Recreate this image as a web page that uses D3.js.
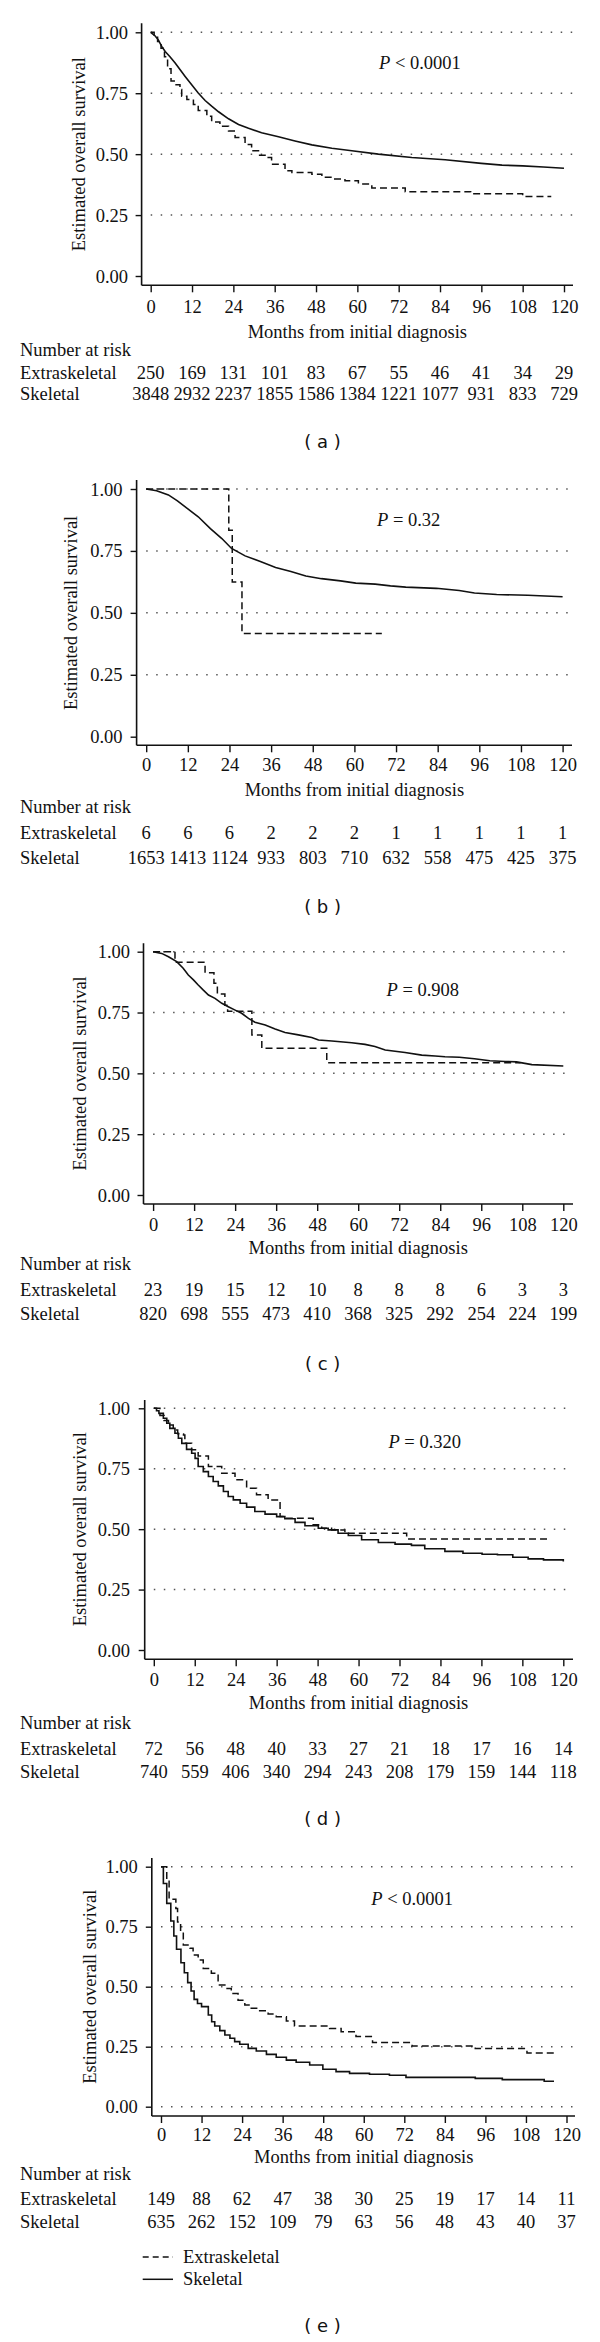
<!DOCTYPE html>
<html><head><meta charset="utf-8">
<script src="https://cdn.jsdelivr.net/npm/d3@7/dist/d3.min.js"></script>
<style>body{margin:0;background:#fff;} svg{display:block;}</style>
</head><body>
<svg id="chart" width="600" height="2342"></svg>
<script>
// ---------------- DATA ----------------
const panelNames = ["a", "b", "c", "d", "e"];
const monthTicks = [0, 12, 24, 36, 48, 60, 72, 84, 96, 108, 120];
const survTicks = [0, 0.25, 0.5, 0.75, 1];
const survTickLabels = ["0.00", "0.25", "0.50", "0.75", "1.00"];
const seriesNames = ["Extraskeletal", "Skeletal"];
const pOps = ["<", "=", "=", "=", "<"];
const pNums = ["0.0001", "0.32", "0.908", "0.320", "0.0001"];

const riskExtra_a = [250, 169, 131, 101, 83, 67, 55, 46, 41, 34, 29];
const riskSkel_a = [3848, 2932, 2237, 1855, 1586, 1384, 1221, 1077, 931, 833, 729];
const riskExtra_b = [6, 6, 6, 2, 2, 2, 1, 1, 1, 1, 1];
const riskSkel_b = [1653, 1413, 1124, 933, 803, 710, 632, 558, 475, 425, 375];
const riskExtra_c = [23, 19, 15, 12, 10, 8, 8, 8, 6, 3, 3];
const riskSkel_c = [820, 698, 555, 473, 410, 368, 325, 292, 254, 224, 199];
const riskExtra_d = [72, 56, 48, 40, 33, 27, 21, 18, 17, 16, 14];
const riskSkel_d = [740, 559, 406, 340, 294, 243, 208, 179, 159, 144, 118];
const riskExtra_e = [149, 88, 62, 47, 38, 30, 25, 19, 17, 14, 11];
const riskSkel_e = [635, 262, 152, 109, 79, 63, 56, 48, 43, 40, 37];

// [month, survival] points
const survSkel_a = [[0,1],[1.3,0.985],[2.2,0.969],[3.2,0.942],[4.2,0.921],[5.6,0.90],[7.1,0.874],[8.5,0.847],[10,0.819],[11.9,0.785],[13.8,0.751],[15.8,0.72],[17.7,0.697],[19.7,0.674],[22.6,0.645],[25.5,0.622],[28.4,0.606],[32.2,0.588],[37.1,0.571],[41.9,0.554],[46.8,0.538],[52.6,0.524],[58.4,0.514],[66.1,0.50],[75.8,0.486],[85.5,0.477],[96,0.462],[102,0.455],[108,0.452],[114,0.447],[120,0.442]];
const survExtra_a = [[0,1],[1,0.985],[2,0.962],[3,0.935],[4,0.90],[4.9,0.85],[5.9,0.80],[7.1,0.785],[8.5,0.765],[9,0.738],[10.5,0.724],[12.4,0.704],[13.8,0.679],[16.3,0.656],[17.7,0.632],[20.1,0.615],[22.6,0.595],[24.5,0.568],[27.4,0.54],[29.3,0.514],[31.3,0.496],[33.2,0.486],[35.1,0.459],[39,0.432],[41,0.425],[46.8,0.418],[49.7,0.405],[52.6,0.398],[56.4,0.391],[60.3,0.378],[64.2,0.361],[73.9,0.346],[92.9,0.337],[108,0.326],[116.3,0.326]];

const survSkel_b = [[0,1],[3,0.993],[6.4,0.976],[9,0.952],[12,0.92],[15,0.888],[18.5,0.84],[21.8,0.80],[24.6,0.76],[28.5,0.73],[32.9,0.707],[37.3,0.683],[41.7,0.667],[46,0.649],[50.5,0.638],[56,0.629],[60.4,0.62],[66,0.616],[70.4,0.609],[74.8,0.604],[83.6,0.599],[90.2,0.59],[94.6,0.58],[101,0.574],[110,0.571],[120,0.565]];
const survExtra_b = [[0,1],[23.8,0.833],[24.8,0.625],[27.6,0.417],[67.9,0.417]];

const survSkel_c = [[0,1],[2.5,0.993],[4.5,0.979],[6.9,0.959],[8.8,0.932],[10.3,0.904],[11.8,0.884],[13.2,0.863],[14.7,0.842],[16.2,0.822],[18.1,0.808],[20.1,0.788],[22,0.774],[24,0.76],[25.9,0.747],[27.9,0.726],[29.8,0.71],[32.8,0.699],[35.7,0.682],[38.6,0.668],[42.5,0.658],[46.4,0.647],[48.4,0.637],[52.3,0.633],[58.1,0.626],[62,0.619],[64.9,0.61],[67.9,0.596],[73.7,0.586],[78.6,0.575],[82.5,0.571],[85.4,0.568],[89.6,0.566],[94,0.56],[98.5,0.552],[103,0.549],[106.3,0.547],[110.8,0.536],[120,0.53]];
const survExtra_c = [[0,1],[6.4,0.957],[15.2,0.913],[17.8,0.87],[18.8,0.826],[21,0.78],[21.8,0.755],[28.9,0.658],[31.8,0.603],[50.8,0.544],[107.5,0.544]];

const survSkel_d = [[0,1],[0.8,0.99],[1.5,0.979],[2.8,0.959],[3.8,0.938],[4.7,0.917],[6.2,0.897],[7.2,0.876],[8.2,0.855],[9.6,0.83],[11.1,0.814],[12.1,0.793],[13,0.759],[14.5,0.738],[16,0.718],[17.4,0.697],[18.9,0.679],[20.4,0.656],[21.8,0.635],[23.3,0.621],[25.3,0.607],[27.2,0.591],[29.6,0.573],[32.6,0.562],[36,0.552],[38.4,0.543],[41.4,0.528],[44.3,0.514],[48.2,0.504],[51.1,0.497],[54,0.483],[57,0.474],[60.9,0.456],[65.8,0.445],[70.7,0.438],[75.5,0.433],[79.4,0.419],[85.3,0.408],[90.6,0.40],[96.2,0.396],[100.7,0.394],[105.2,0.384],[109.7,0.377],[114.2,0.373],[120,0.366]];
const survExtra_d = [[0,1],[1.8,0.97],[3,0.95],[4.3,0.931],[5.7,0.91],[7,0.895],[8.7,0.89],[9.1,0.855],[11.1,0.828],[13,0.803],[16,0.759],[19.9,0.731],[23.8,0.704],[27.2,0.669],[30.1,0.642],[33.5,0.621],[37,0.552],[38.5,0.545],[46.7,0.518],[49.2,0.504],[52.1,0.497],[56,0.483],[74.1,0.459],[115.3,0.459]];

const survSkel_e = [[0,1],[0.7,0.93],[1.7,0.847],[2.9,0.774],[3.8,0.711],[4.6,0.656],[5.9,0.60],[6.9,0.558],[7.9,0.517],[8.9,0.482],[9.8,0.447],[10.8,0.43],[12,0.417],[14,0.382],[15,0.354],[15.9,0.336],[17.4,0.317],[18.9,0.299],[20.4,0.285],[21.8,0.271],[23.3,0.26],[25.8,0.243],[28.2,0.232],[31.2,0.218],[34.1,0.206],[37.1,0.194],[40,0.185],[44,0.174],[47.9,0.156],[51.8,0.146],[55.8,0.139],[61.7,0.135],[67.6,0.131],[72.5,0.122],[93,0.118],[101,0.113],[113.4,0.106],[116.3,0.106]];
const survExtra_e = [[0,1],[1.7,0.944],[2.4,0.864],[4.4,0.826],[4.9,0.77],[5.8,0.73],[6.6,0.674],[8.6,0.66],[9.5,0.632],[11,0.611],[12.5,0.576],[14.9,0.556],[16.9,0.507],[18.9,0.493],[20.8,0.472],[22.8,0.444],[24.8,0.424],[26.7,0.41],[29.2,0.40],[31.7,0.386],[34.1,0.375],[37.1,0.357],[39.5,0.336],[49.9,0.326],[53.3,0.3125],[57.7,0.292],[62.6,0.267],[74.3,0.253],[93,0.242],[108.3,0.224],[116.3,0.224]];

const riskExtra = [riskExtra_a, riskExtra_b, riskExtra_c, riskExtra_d, riskExtra_e];
const riskSkel = [riskSkel_a, riskSkel_b, riskSkel_c, riskSkel_d, riskSkel_e];
const survExtra = [survExtra_a, survExtra_b, survExtra_c, survExtra_d, survExtra_e];
const survSkel = [survSkel_a, survSkel_b, survSkel_c, survSkel_d, survSkel_e];

// ---------------- LAYOUT (pixels) ----------------
const layout = [
  {axisX:141.6, x0:150.7, x1:564,   right:573, yTop:32.3,   yBot:276,    axisTop:23.3,  xAxisY:285.3,  tickLabY:307,    titleY:332,    yTitleX:78.5, yTickRight:128,   narY:350,    extraY:372.7,  skelY:394,    labelY:441.7,  pX:379,   pY:63.3,   zeroGrid:false, skelStep:false},
  {axisX:136.6, x0:146.2, x1:562.6, right:572, yTop:489,    yBot:736.7,  axisTop:480,   xAxisY:745.3,  tickLabY:765,    titleY:790,    yTitleX:70.8, yTickRight:122.5, narY:806.7,  extraY:833.3,  skelY:857.7,  labelY:906.7,  pX:377,   pY:520,    zeroGrid:false, skelStep:false},
  {axisX:143.5, x0:153.1, x1:563.3, right:573, yTop:951.7,  yBot:1195,   axisTop:943.3, xAxisY:1204,   tickLabY:1225,   titleY:1248.3, yTitleX:80.4, yTickRight:130,   narY:1264,   extraY:1290,   skelY:1314,   labelY:1363.3, pX:386.5, pY:990,    zeroGrid:false, skelStep:false},
  {axisX:144.7, x0:153.8, x1:563.3, right:573, yTop:1408.3, yBot:1650,   axisTop:1400,  xAxisY:1659.3, tickLabY:1680,   titleY:1703.3, yTitleX:80.4, yTickRight:130,   narY:1722.7, extraY:1749.3, skelY:1771.7, labelY:1818.3, pX:388.4, pY:1442.3, zeroGrid:false, skelStep:true},
  {axisX:151.8, x0:161,   x1:566.5, right:575, yTop:1866.7, yBot:2106.7, axisTop:1858,  xAxisY:2116,   tickLabY:2135.3, titleY:2157,   yTitleX:90,   yTickRight:137.8, narY:2173.7, extraY:2198.7, skelY:2222,   labelY:2325.3, pX:371.2, pY:1898.7, zeroGrid:true,  skelStep:true}
];
const legendLayout = {x0:142.7, x1:173, textX:183, y:[2257, 2279.3]};

const serif = "'Liberation Serif', 'Times New Roman', serif";
const fs = 18.5;
const ink = "#111";
const dashStyle = "7 4";

const svg = d3.select("#chart");

panelNames.forEach((name, i) => {
  const L = layout[i];
  const g = svg.append("g");
  const x = d3.scaleLinear().domain([0, 120]).range([L.x0, L.x1]);
  const y = d3.scaleLinear().domain([0, 1]).range([L.yBot, L.yTop]);

  // dotted grid
  const gridVals = survTicks.filter(v => L.zeroGrid || v > 0);
  g.selectAll("line.grid").data(gridVals).join("line")
    .attr("x1", L.x0).attr("x2", L.right)
    .attr("y1", d => y(d)).attr("y2", d => y(d))
    .attr("stroke", "#555").attr("stroke-width", 1.5)
    .attr("stroke-dasharray", "1.5 8.5");

  // y axis
  const yAxis = d3.axisLeft(y).tickValues(survTicks)
    .tickFormat((d, k) => survTickLabels[k]).tickSize(6).tickPadding(L.axisX - L.yTickRight - 6);
  const ya = g.append("g").attr("transform", `translate(${L.axisX},0)`).call(yAxis);
  ya.select(".domain").remove();
  ya.append("line").attr("x1", 0).attr("x2", 0).attr("y1", L.axisTop).attr("y2", L.xAxisY)
    .attr("stroke", ink).attr("stroke-width", 1.6);
  ya.selectAll(".tick line").attr("stroke", ink).attr("stroke-width", 1.4);
  ya.selectAll(".tick text").attr("font-family", serif).attr("font-size", fs).attr("fill", ink)
    .attr("dy", null).attr("dominant-baseline", "central");

  // x axis
  const xAxis = d3.axisBottom(x).tickValues(monthTicks).tickFormat(d3.format("d")).tickSize(7).tickPadding(0);
  const xa = g.append("g").attr("transform", `translate(0,${L.xAxisY})`).call(xAxis);
  xa.select(".domain").remove();
  xa.append("line").attr("x1", L.axisX).attr("x2", L.right).attr("y1", 0).attr("y2", 0)
    .attr("stroke", ink).attr("stroke-width", 1.6);
  xa.selectAll(".tick line").attr("stroke", ink).attr("stroke-width", 1.4);
  xa.selectAll(".tick text").attr("font-family", serif).attr("font-size", fs).attr("fill", ink)
    .attr("y", L.tickLabY - L.xAxisY).attr("dy", null).attr("dominant-baseline", "central");

  // axis titles
  g.append("text").attr("x", (L.x0 + L.x1) / 2).attr("y", L.titleY)
    .attr("text-anchor", "middle").attr("dominant-baseline", "central")
    .attr("font-family", serif).attr("font-size", fs).attr("fill", ink)
    .text("Months from initial diagnosis");
  g.append("text")
    .attr("transform", `translate(${L.yTitleX},${(L.yTop + L.yBot) / 2}) rotate(-90)`)
    .attr("text-anchor", "middle").attr("dominant-baseline", "central")
    .attr("font-family", serif).attr("font-size", fs).attr("fill", ink)
    .text("Estimated overall survival");

  // curves
  const stepLine = d3.line().x(d => x(d[0])).y(d => y(d[1])).curve(d3.curveStepAfter);
  const fineLine = d3.line().x(d => x(d[0])).y(d => y(d[1])).curve(d3.curveLinear);
  g.append("path").datum(survSkel[i]).attr("d", L.skelStep ? stepLine : fineLine)
    .attr("fill", "none").attr("stroke", ink).attr("stroke-width", 1.6);
  g.append("path").datum(survExtra[i]).attr("d", stepLine)
    .attr("fill", "none").attr("stroke", ink).attr("stroke-width", 1.5)
    .attr("stroke-dasharray", dashStyle);

  // p value
  const pt = g.append("text").attr("x", L.pX).attr("y", L.pY).attr("dominant-baseline", "central")
    .attr("font-family", serif).attr("font-size", fs).attr("fill", ink);
  pt.append("tspan").attr("font-style", "italic").text("P");
  pt.append("tspan").text(" " + pOps[i] + " " + pNums[i]);

  // number at risk table
  const txt = (xx, yy, s, anchor) => g.append("text").attr("x", xx).attr("y", yy)
    .attr("text-anchor", anchor).attr("dominant-baseline", "central")
    .attr("font-family", serif).attr("font-size", fs).attr("fill", ink).text(s);
  txt(20, L.narY, "Number at risk", "start");
  txt(20, L.extraY, seriesNames[0], "start");
  txt(20, L.skelY, seriesNames[1], "start");
  g.selectAll("text.re").data(riskExtra[i]).join("text").attr("class", "re")
    .attr("x", (d, k) => x(monthTicks[k])).attr("y", L.extraY)
    .attr("text-anchor", "middle").attr("dominant-baseline", "central")
    .attr("font-family", serif).attr("font-size", fs).attr("fill", ink).text(d => d);
  g.selectAll("text.rs").data(riskSkel[i]).join("text").attr("class", "rs")
    .attr("x", (d, k) => x(monthTicks[k])).attr("y", L.skelY)
    .attr("text-anchor", "middle").attr("dominant-baseline", "central")
    .attr("font-family", serif).attr("font-size", fs).attr("fill", ink).text(d => d);

  // panel label
  g.append("text").attr("x", 322.6).attr("y", L.labelY)
    .attr("text-anchor", "middle").attr("dominant-baseline", "central")
    .attr("font-family", "'DejaVu Sans', Verdana, sans-serif").attr("font-size", 18).attr("fill", ink)
    .attr("xml:space", "preserve")
    .text("( " + name + " )");
});

// legend (panel e)
const lg = svg.append("g");
seriesNames.forEach((s, k) => {
  lg.append("line").attr("x1", legendLayout.x0).attr("x2", legendLayout.x1)
    .attr("y1", legendLayout.y[k]).attr("y2", legendLayout.y[k])
    .attr("stroke", ink).attr("stroke-width", 1.5)
    .attr("stroke-dasharray", k === 0 ? "6 4" : null);
  lg.append("text").attr("x", legendLayout.textX).attr("y", legendLayout.y[k])
    .attr("dominant-baseline", "central")
    .attr("font-family", serif).attr("font-size", fs).attr("fill", ink).text(s);
});
</script>
</body></html>
